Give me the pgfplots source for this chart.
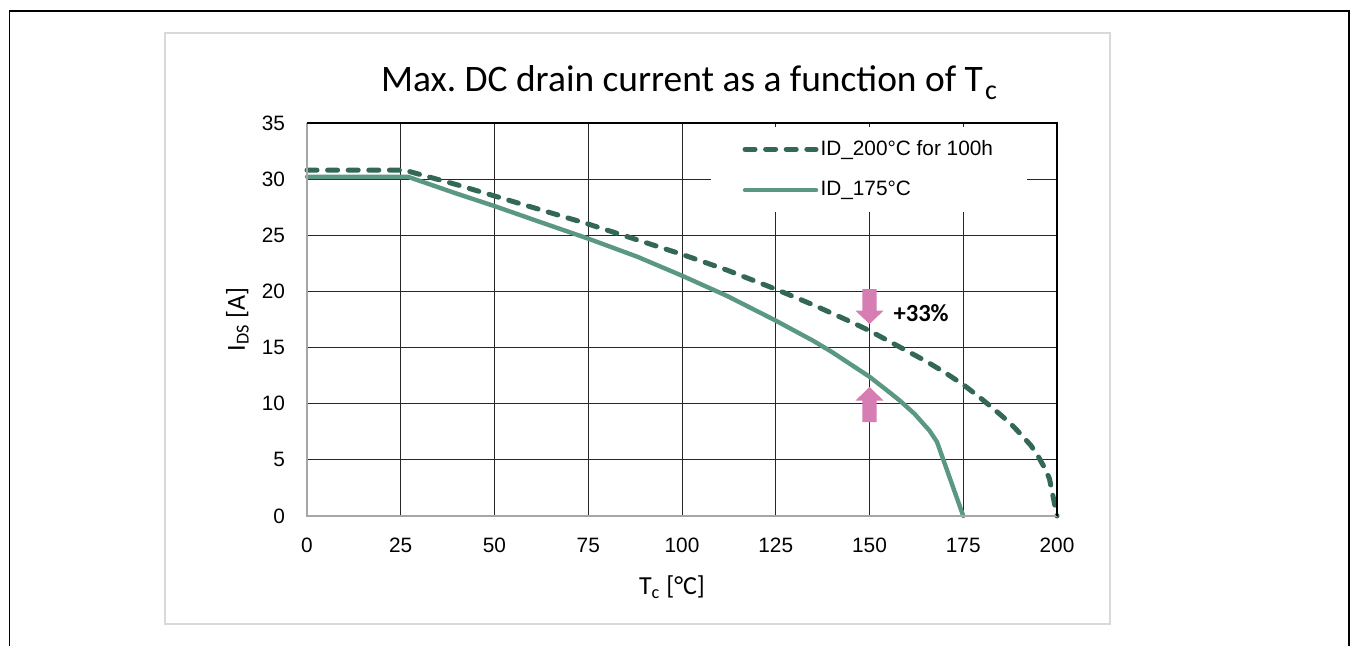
\documentclass[border=0pt]{standalone}
\usepackage{fontspec}
\setmainfont{Carlito}
\newfontfamily\arialfont{Liberation Sans}
\usepackage{pgfplots}
\pgfplotsset{compat=1.18}
\frenchspacing

\definecolor{hotline}{HTML}{346856}
\definecolor{ratedline}{HTML}{5A9882}
\definecolor{arrowpink}{HTML}{D67DB4}
\definecolor{framegray}{HTML}{D9D9D9}
\definecolor{axisgray}{HTML}{A6A6A6}

\begin{document}
\begin{tikzpicture}
% page and frames
\useasboundingbox[fill=white] (0,0) rectangle (675.5pt,323pt);
\draw[black, line width=0.85pt] (4.75pt,0) -- (4.75pt,317.5pt) -- (674.5pt,317.5pt) -- (674.5pt,0);
\draw[framegray, line width=0.75pt] (82.5pt,11pt) rectangle (555pt,306.5pt);

\begin{axis}[
  at={(153.5pt,65pt)}, anchor=south west,
  scale only axis, width=375pt, height=196.5pt,
  xmin=0, xmax=200, ymin=0, ymax=35,
  xtick={0,25,...,200}, ytick={0,5,...,35},
  major tick length=0pt,
  grid=major, major grid style={black!85, line width=0.5pt},
  axis line style={draw=none},
  clip=false,
  /pgf/number format/assume math mode=true,
  ticklabel style={font=\arialfont\fontsize{10.4}{12}\selectfont, text=black},
  xticklabel style={yshift=-7.5pt},
  yticklabel style={xshift=-7.5pt},
  title={\fontsize{18.7}{22}\selectfont Max. DC drain current as a function of T\kern1pt\raisebox{-4pt}{\fontsize{14}{16}\selectfont c}},
  title style={at={(rel axis cs:0.5,1)}, anchor=base, yshift=9.5pt, xshift=3.5pt, inner sep=0pt},
  xlabel={T\textsubscript{c} [°C]},
  ylabel={I\textsubscript{DS} [A]},
  every axis x label/.style={at={(rel axis cs:0.5,0)}, anchor=base, yshift=-39.5pt, xshift=-5pt, font=\fontsize{13}{15}\selectfont},
  every axis y label/.style={at={(rel axis cs:0,0.5)}, anchor=base, xshift=-31pt, rotate=90, font=\fontsize{13}{15}\selectfont},
  legend cell align=left,
  legend style={draw=none, fill=white, at={(axis cs:107.5,34.7)}, anchor=north west,
    inner xsep=16pt, inner ysep=4.7pt, row sep=7.6pt,
    nodes={inner xsep=1pt, inner ysep=2pt},
    font=\arialfont\fontsize{10.4}{12}\selectfont},
  legend image code/.code={\draw[#1] (0pt,0pt) -- (35.5pt,0pt);},
]

% rated at T_j,max = 200 degC for 100 h
\addplot[hotline, line width=2.5pt, line cap=round, line join=round, dash pattern=on 5pt off 5.3pt] coordinates {
  (0,30.8) (26,30.8) (40,29.5) (50,28.5) (62,27.3) (75,26.0) (88,24.6)
  (100,23.3) (112,21.9) (125,20.2) (135,18.8) (145,17.3) (150,16.5)
  (155,15.6) (160,14.7) (165,13.8) (170,12.8) (175,11.7) (180,10.4)
  (185,9.0) (188,8.1) (190,7.4) (193,6.3) (195,5.3) (197,4.1) (198,3.3) (200,0)
};
\addlegendentry{ID\_200°C for 100h}

% rated at T_j,max = 175 degC
\addplot[ratedline, line width=2.2pt, line cap=round, line join=round] coordinates {
  (0,30.2) (27,30.2) (40,28.7) (50,27.6) (62,26.2) (75,24.7) (88,23.1)
  (100,21.4) (112,19.6) (125,17.4) (130,16.5) (135,15.6) (140,14.6)
  (145,13.5) (150,12.4) (155,11.1) (158,10.3) (162,9.1) (166,7.6) (168,6.6) (175,0)
};
\addlegendentry{ID\_175°C}

% axis frame: grey left/bottom, black top/right
\draw[axisgray, line width=1.4pt] (rel axis cs:0,1) -- (rel axis cs:0,0) -- (rel axis cs:1,0);
\draw[black, line width=1.35pt] (rel axis cs:0,1) -- (rel axis cs:1,1) -- (rel axis cs:1,0);

% gain annotation at T_c = 150 degC
\fill[arrowpink] (axis cs:148.13,20.2) -- (axis cs:151.87,20.2) -- (axis cs:151.87,18.28)
  -- (axis cs:153.73,18.28) -- (axis cs:150,17.1) -- (axis cs:146.27,18.28)
  -- (axis cs:148.13,18.28) -- cycle;
\fill[arrowpink] (axis cs:148.13,8.37) -- (axis cs:151.87,8.37) -- (axis cs:151.87,10.27)
  -- (axis cs:153.73,10.27) -- (axis cs:150,11.5) -- (axis cs:146.27,10.27)
  -- (axis cs:148.13,10.27) -- cycle;
\node[anchor=base west, inner sep=0pt, font=\bfseries\fontsize{12.3}{14}\selectfont]
  at (axis cs:156.3,17.3) {+33\%};
\end{axis}
\end{tikzpicture}
\end{document}
